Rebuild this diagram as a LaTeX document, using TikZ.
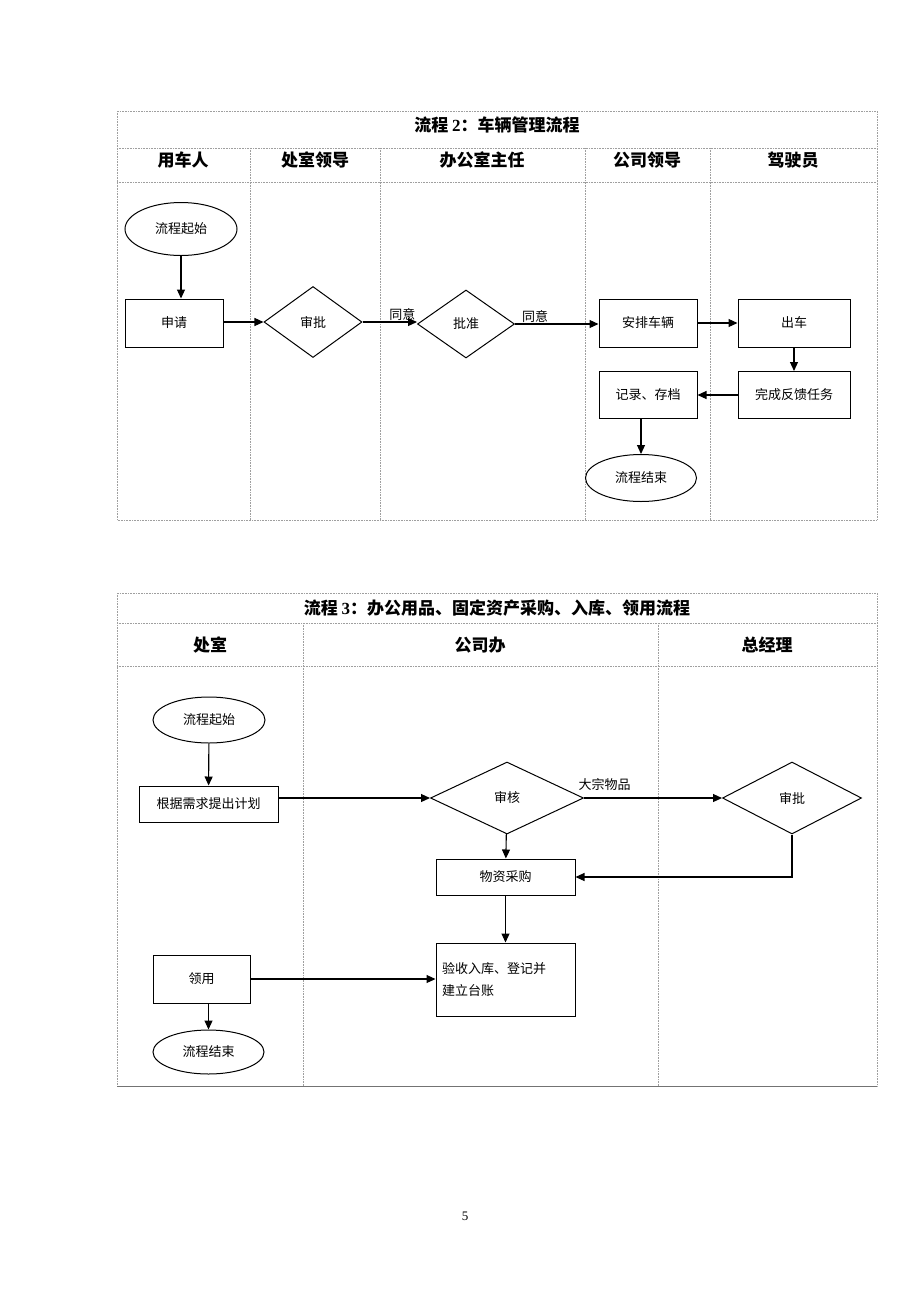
\documentclass[tikz,border=0pt]{standalone}
\usepackage{fontspec}
\setmainfont{Liberation Serif}
\newfontfamily\cjk{Noto Sans CJK SC}
\usetikzlibrary{shapes.geometric,arrows.meta}

\begin{document}
\begin{tikzpicture}[x=1pt,y=-1pt]

\tikzset{
lane/.style={draw=gray!75,densely dotted,line width=0.6pt},
head/.style={font=\cjk\bfseries\fontsize{17pt}{20pt}\selectfont},
txt/.style={font=\cjk\fontsize{13pt}{22pt}\selectfont},
box/.style={txt,rectangle,draw,line width=1pt,inner sep=0pt},
ends/.style={txt,ellipse,draw,line width=1pt,inner sep=0pt},
check/.style={txt,diamond,draw,line width=1pt,inner sep=0pt},
edge/.style={-{Triangle[length=9pt,width=8pt]},line width=1.1pt},
lbl/.style={txt,inner sep=1pt}
}
\useasboundingbox (0,0) rectangle (920,1302);

% table 2
\draw[lane] (117,111) rectangle (877,520);
\draw[lane] (117,148) -- (877,148);
\draw[lane] (117,182) -- (877,182);
\foreach \x in {250,380,585,710}
  \draw[lane] (\x,148) -- (\x,520);
\node[head] (t2) at (497,125) {流程 {\rmfamily\bfseries 2}：车辆管理流程};
\node[head] (h1) at (183,160) {用车人};
\node[head] (h2) at (315,160) {处室领导};
\node[head] (h3) at (482,160) {办公室主任};
\node[head] (h4) at (647,160) {公司领导};
\node[head] (h5) at (793,160) {驾驶员};

% vertices
\node[ends, minimum width=112pt, minimum height=53pt] (s1) at (181,229) {流程起始};
\node[box, minimum width=98pt, minimum height=48pt] (apply) at (174,323) {申请};
\node[check, minimum width=98pt, minimum height=71pt] (check1) at (313,322) {审批};
\node[check, minimum width=97pt, minimum height=68pt] (check2) at (466,324) {批准};
\node[box, minimum width=98pt, minimum height=48pt] (arrange) at (648,323) {安排车辆};
\node[box, minimum width=112pt, minimum height=48pt] (drive) at (794,323) {出车};
\node[box, minimum width=112pt, minimum height=47pt] (feedback) at (794,395) {完成反馈任务};
\node[box, minimum width=98pt, minimum height=47pt] (record) at (648,395) {记录、存档};
\node[ends, minimum width=111pt, minimum height=47pt] (e1) at (641,478) {流程结束};

%edges
\draw[edge] (s1.south) -- (s1.south |- apply.north);
\draw[edge] (apply.east |- check1) -- (check1);
\draw[edge] (check1.east) -- node[lbl, above, pos=0.73] {同意} (check1.east -| check2.west);
\draw[edge] (check2.east) -- node[lbl, above, pos=0.24] {同意} (check2.east -| arrange.west);
\draw[edge] (arrange) -- (drive);
\draw[edge] (drive) -- (feedback);
\draw[edge] (feedback) -- (record);
\draw[edge] (e1.north |- record.south) -- (e1.north);

% table 3
\draw[lane] (117,593) rectangle (877,1086);
\draw[lane] (117,623) -- (877,623);
\draw[lane] (117,666) -- (877,666);
\foreach \x in {303,658}
  \draw[lane] (\x,623) -- (\x,1086);
\draw[gray!90!black, line width=0.8pt] (117,1086) -- (877,1086);
\node[head] (t3) at (497,608) {流程 {\rmfamily\bfseries 3}：办公用品、固定资产采购、入库、领用流程};
\node[head] (g1) at (210,645) {处室};
\node[head] (g2) at (480,645) {公司办};
\node[head] (g3) at (767,645) {总经理};

% vertices
\node[ends, minimum width=112pt, minimum height=46pt] (s2) at (209,720) {流程起始};
\node[box, minimum width=139pt, minimum height=36pt] (plan) at (208.5,804) {根据需求提出计划};
\node[check, minimum width=153pt, minimum height=72pt] (audit) at (507,798) {审核};
\node[check, minimum width=139pt, minimum height=72pt] (approve) at (792,798) {审批};
\node[box, minimum width=139pt, minimum height=36pt] (buy) at (505.5,877) {物资采购};
\node[box, minimum width=139pt, minimum height=73pt, text width=127pt, align=left] (store) at (505.5,979.5) {验收入库、登记并\\建立台账};
\node[box, minimum width=97pt, minimum height=48pt] (take) at (201.5,979) {领用};
\node[ends, minimum width=111pt, minimum height=44pt] (e2) at (208.5,1052) {流程结束};

%edges
\draw[edge] (s2) -- (plan);
\draw[edge] (plan.east |- audit.west) -- (audit.west);
\draw[edge] (audit.east) -- node[lbl, above=6pt, pos=0.15] {大宗物品} (approve.west);
\draw[edge] (audit) -- (buy);
\draw[edge] (approve.south) |- (buy.east);
\draw[edge] (buy) -- (store);
\draw[edge] (take) -- (take -| store.west);
\draw[edge] (e2.north |- take.south) -- (e2.north);

\node[font=\fontsize{13pt}{15pt}\selectfont] (page) at (465,1216) {5};

\end{tikzpicture}
\end{document}
